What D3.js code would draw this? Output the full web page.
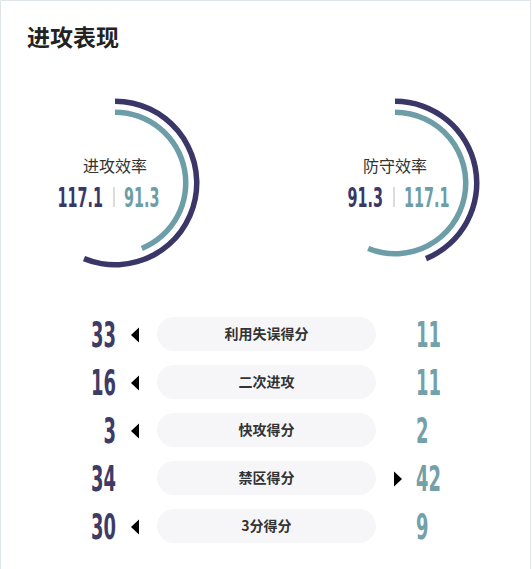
<!DOCTYPE html>
<html lang="zh">
<head>
<meta charset="UTF-8">
<title>进攻表现</title>
<script src="https://d3js.org/d3.v7.min.js"></script>
<style>
  body { margin: 0; background: #fff; }
  svg { display: block; }
</style>
</head>
<body>
<svg width="532" height="569"></svg>
<script>
// gauge data: outer ring = home team (navy), inner ring = opponent (teal)
const gaugeTitles = ["进攻效率", "防守效率"];
const homeEff = [117.1, 91.3];
const awayEff = [91.3, 117.1];

// comparison rows
const statLabels = ["利用失误得分", "二次进攻", "快攻得分", "禁区得分", "3分得分"];
const homeStats = [33, 16, 3, 34, 30];
const awayStats = [11, 11, 2, 42, 9];

const navy = "#3a3768";
const teal = "#6d9ea8";
const numFont = "'Liberation Sans Narrow', 'DejaVu Sans Condensed', sans-serif";
const cjkFont = "'Noto Sans CJK SC', 'Noto Sans', sans-serif";

const svg = d3.select("svg");

// the original uses a condensed DIN-like face; squeeze our font to that digit width
function digitScale(size, weight, target) {
  const t = svg.append("text")
    .style("font-family", numFont)
    .style("font-size", size + "px")
    .style("font-weight", weight)
    .text("0000");
  const w = t.node().getComputedTextLength() / 4;
  t.remove();
  return target / w;
}
const gaugeSx = digitScale(26, "bold", 10);
const rowSx = digitScale(36, "bold", 12.5);

// card border (top, left, right)
svg.append("path")
  .attr("d", "M0.5,569 V0.5 H530.5 V569")
  .attr("fill", "none")
  .attr("stroke", "#dfe4e6");

svg.append("text")
  .attr("x", 27)
  .attr("y", 46)
  .style("font-family", cjkFont)
  .style("font-size", "23px")
  .style("font-weight", "bold")
  .style("fill", "#222")
  .text("进攻表现");

// ---- gauges
const gx = d3.scalePoint().domain(gaugeTitles).range([115, 395]);
const gy = 183;

gaugeTitles.forEach((t, i) => {
  const total = homeEff[i] + awayEff[i];
  const ang = d3.scaleLinear().domain([0, total]).range([0, 2 * Math.PI]);
  const g = svg.append("g").attr("transform", `translate(${gx(t)},${gy})`);

  const outer = d3.arc().innerRadius(79).outerRadius(84.5).startAngle(0);
  const inner = d3.arc().innerRadius(68).outerRadius(73.5).startAngle(0);

  g.append("path")
    .attr("d", outer.endAngle(ang(homeEff[i]))())
    .attr("fill", navy);
  g.append("path")
    .attr("d", inner.endAngle(ang(awayEff[i]))())
    .attr("fill", teal);

  g.append("text")
    .attr("y", -11)
    .attr("text-anchor", "middle")
    .style("font-family", cjkFont)
    .style("font-size", "16px")
    .style("fill", "#333")
    .text(t);

  g.append("line")
    .attr("x1", -1).attr("x2", -1)
    .attr("y1", 4).attr("y2", 24)
    .attr("stroke", "#dcdcdc")
    .attr("stroke-width", 2);

  g.append("g")
    .attr("transform", `translate(-12,24) scale(${gaugeSx},1)`)
    .append("text")
    .attr("text-anchor", "end")
    .style("font-family", numFont)
    .style("font-size", "26px")
    .style("font-weight", "bold")
    .style("fill", navy)
    .text(homeEff[i].toFixed(1));

  g.append("g")
    .attr("transform", `translate(9,24) scale(${gaugeSx},1)`)
    .append("text")
    .attr("text-anchor", "start")
    .style("font-family", numFont)
    .style("font-size", "26px")
    .style("font-weight", "bold")
    .style("fill", teal)
    .text(awayEff[i].toFixed(1));
});

// ---- stat rows
const ry = d3.scalePoint().domain(statLabels).range([334, 526]);
const pill = { x0: 157, x1: 376, h: 34 };

statLabels.forEach((lab, i) => {
  const y = ry(lab);
  const row = svg.append("g").attr("transform", `translate(0,${y})`);

  row.append("rect")
    .attr("x", pill.x0)
    .attr("y", -pill.h / 2)
    .attr("width", pill.x1 - pill.x0)
    .attr("height", pill.h)
    .attr("rx", pill.h / 2)
    .attr("fill", "#f6f6f8");

  row.append("text")
    .attr("x", (pill.x0 + pill.x1) / 2)
    .attr("y", 5)
    .attr("text-anchor", "middle")
    .style("font-family", cjkFont)
    .style("font-size", "14px")
    .style("font-weight", "bold")
    .style("fill", "#333")
    .text(lab);

  row.append("g")
    .attr("transform", `translate(116,13) scale(${rowSx},1)`)
    .append("text")
    .attr("text-anchor", "end")
    .style("font-family", numFont)
    .style("font-size", "36px")
    .style("font-weight", "bold")
    .style("fill", "#3e3b66")
    .text(homeStats[i]);

  row.append("g")
    .attr("transform", `translate(416,13) scale(${rowSx},1)`)
    .append("text")
    .attr("text-anchor", "start")
    .style("font-family", numFont)
    .style("font-size", "36px")
    .style("font-weight", "bold")
    .style("fill", "#74a0aa")
    .text(awayStats[i]);

  // arrow points at the larger value
  if (homeStats[i] > awayStats[i]) {
    row.append("path")
      .attr("d", "M131,1 L139,-6.5 L139,8.5 Z")
      .attr("fill", "#000");
  } else if (awayStats[i] > homeStats[i]) {
    row.append("path")
      .attr("d", "M402,1 L394,-6.5 L394,8.5 Z")
      .attr("fill", "#000");
  }
});
</script>
</body>
</html>
